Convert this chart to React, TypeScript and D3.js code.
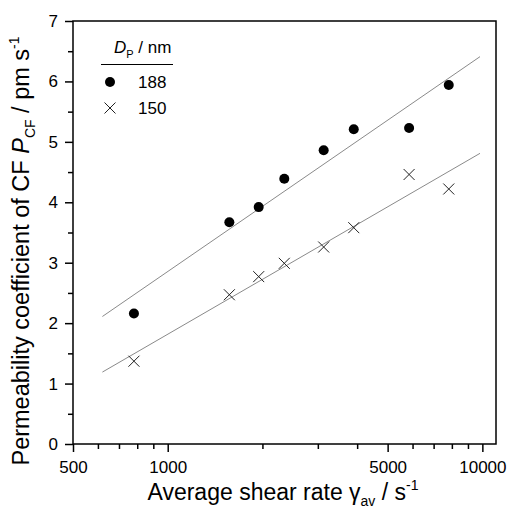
import React, { useEffect, useRef } from 'react';
import * as d3 from 'd3';

// shear rate (s^-1) for each measurement
const shearRates = [781, 1570, 1946, 2347, 3131, 3902, 5850, 7820];
// permeability coefficient, pm s^-1
const perm188 = [2.16, 3.67, 3.92, 4.39, 4.86, 5.21, 5.23, 5.94];
const perm150 = [1.37, 2.47, 2.77, 2.99, 3.26, 3.58, 4.46, 4.22];

// fitted lines (ends of the drawn lines)
const fitX = [620, 9830];
const fit188 = [2.11, 6.41];
const fit150 = [1.19, 4.81];

const xMajor = [500, 1000, 5000, 10000];
const xMinor = [600, 700, 800, 900, 2000, 3000, 4000, 6000, 7000, 8000, 9000];
const yMajor = [0, 1, 2, 3, 4, 5, 6, 7];
const yMinor = [0.5, 1.5, 2.5, 3.5, 4.5, 5.5, 6.5];

const legendItems = ['188', '150'];

const FONT = '"Liberation Sans", Arial, Helvetica, sans-serif';

const App = () => {
  const svgRef = useRef<SVGSVGElement>(null);
  const width = 508;
  const height = 519;

  useEffect(() => {
    const svg = d3.select(svgRef.current);
    svg.selectAll('*').remove();

    const left = 73, right = 496, top = 21, bottom = 444;

    const x = d3.scaleLog().domain([500, 11050]).range([left, right]);
    const y = d3.scaleLinear().domain([0, 7]).range([bottom, top]);

    const g = svg.append('g').style('font-family', FONT);

    // fit lines
    const line = d3.line<[number, number]>()
      .x(d => x(d[0]))
      .y(d => y(d[1]));

    [fit188, fit150].forEach(fit => {
      g.append('path')
        .datum(fitX.map((v, i) => [v, fit[i]] as [number, number]))
        .attr('d', line)
        .attr('fill', 'none')
        .attr('stroke', '#8a8a8a')
        .attr('stroke-width', 1);
    });

    // 188 nm: filled circles
    g.selectAll('.c188')
      .data(shearRates)
      .enter()
      .append('circle')
      .attr('class', 'c188')
      .attr('cx', d => x(d))
      .attr('cy', (d, i) => y(perm188[i]))
      .attr('r', 5)
      .attr('fill', '#000');

    // 150 nm: crosses
    const cross = (sel, cx, cy, s) => {
      sel.append('path')
        .attr('d', `M${cx - s},${cy - s}L${cx + s},${cy + s}M${cx - s},${cy + s}L${cx + s},${cy - s}`)
        .attr('stroke', '#222')
        .attr('stroke-width', 1)
        .attr('fill', 'none');
    };
    shearRates.forEach((d, i) => cross(g, x(d), y(perm150[i]), 5.5));

    // frame
    g.append('rect')
      .attr('x', left)
      .attr('y', top)
      .attr('width', right - left)
      .attr('height', bottom - top)
      .attr('fill', 'none')
      .attr('stroke', '#000')
      .attr('stroke-width', 1.5);

    // x axis
    const xAxis = g.append('g')
      .attr('transform', `translate(0,${bottom})`)
      .call(d3.axisBottom(x).tickValues(xMajor).tickFormat(d3.format('d')).tickSize(8).tickSizeOuter(0).tickPadding(9));
    xAxis.select('.domain').remove();
    xAxis.selectAll('line').attr('stroke-width', 1.5);
    xAxis.selectAll('text')
      .style('font-family', FONT)
      .style('font-size', '17px')
      .attr('fill', '#000');

    const xAxisMinor = g.append('g')
      .attr('transform', `translate(0,${bottom})`)
      .call(d3.axisBottom(x).tickValues(xMinor).tickFormat(() => '').tickSize(5).tickSizeOuter(0));
    xAxisMinor.select('.domain').remove();
    xAxisMinor.selectAll('line').attr('stroke-width', 1.5);

    // y axis
    const yAxis = g.append('g')
      .attr('transform', `translate(${left},0)`)
      .call(d3.axisLeft(y).tickValues(yMajor).tickFormat(d3.format('d')).tickSize(8).tickSizeOuter(0).tickPadding(7));
    yAxis.select('.domain').remove();
    yAxis.selectAll('line').attr('stroke-width', 1.5);
    yAxis.selectAll('text')
      .style('font-family', FONT)
      .style('font-size', '17px')
      .attr('fill', '#000');

    const yAxisMinor = g.append('g')
      .attr('transform', `translate(${left},0)`)
      .call(d3.axisLeft(y).tickValues(yMinor).tickFormat(() => '').tickSize(5).tickSizeOuter(0));
    yAxisMinor.select('.domain').remove();
    yAxisMinor.selectAll('line').attr('stroke-width', 1.5);

    // x title
    const xt = g.append('text')
      .attr('x', 283)
      .attr('y', 500)
      .attr('text-anchor', 'middle')
      .style('font-size', '23px');
    xt.append('tspan').text('Average shear rate \u03b3');
    xt.append('tspan').attr('dy', 6).style('font-size', '14px').text('av');
    xt.append('tspan').attr('dy', -6).text(' / s');
    xt.append('tspan').attr('dy', -10).style('font-size', '14px').text('-1');

    // y title
    const yt = g.append('text')
      .attr('transform', 'translate(29,251) rotate(-90)')
      .attr('text-anchor', 'middle')
      .style('font-size', '23.5px');
    yt.append('tspan').text('Permeability coefficient of CF ');
    yt.append('tspan').style('font-style', 'italic').text('P');
    yt.append('tspan').attr('dy', 6).style('font-size', '14px').text('CF');
    yt.append('tspan').attr('dy', -6).text(' / pm s');
    yt.append('tspan').attr('dy', -10).style('font-size', '14px').text('-1');

    // legend
    const lg = g.append('g');
    const lh = lg.append('text')
      .attr('x', 114)
      .attr('y', 53)
      .style('font-size', '17px');
    lh.append('tspan').style('font-style', 'italic').text('D');
    lh.append('tspan').attr('dy', 5).style('font-size', '11px').text('P');
    lh.append('tspan').attr('dy', -5).text(' / nm');

    lg.append('line')
      .attr('x1', 101)
      .attr('x2', 173)
      .attr('y1', 64.5)
      .attr('y2', 64.5)
      .attr('stroke', '#000')
      .attr('stroke-width', 1.2);

    legendItems.forEach((label, i) => {
      const cy = 82 + i * 26;
      if (i === 0) {
        lg.append('circle').attr('cx', 110).attr('cy', cy).attr('r', 5).attr('fill', '#000');
      } else {
        cross(lg, 110, cy, 5.5);
      }
      lg.append('text')
        .attr('x', 138)
        .attr('y', cy + 6)
        .style('font-size', '17px')
        .text(label);
    });
  }, []);

  return (
    <svg
      ref={svgRef}
      width={width}
      height={height}
      style={{ position: 'absolute', left: 0, top: 0, background: '#fff' }}
    />
  );
};

export default App;
